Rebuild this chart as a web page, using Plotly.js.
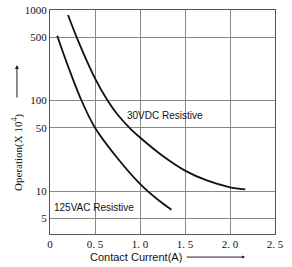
<!DOCTYPE html>
<html><head><meta charset="utf-8">
<script src="https://cdn.plot.ly/plotly-3.0.1.min.js"></script>
<style>html,body{margin:0;padding:0;background:#fff;}#c{width:292px;height:267px;}</style>
</head><body><div id="c"></div>
<script>
const dcCurrent = [0.2, 0.3, 0.5, 0.64, 0.75, 0.9, 1.0, 1.25, 1.5, 1.75, 2.0, 2.17];
const dcOps     = [880, 490, 176, 100, 70, 48, 39, 24.5, 16.8, 13, 11, 10.4];
const acCurrent = [0.08, 0.2, 0.35, 0.5, 0.75, 1.0, 1.2, 1.35];
const acOps     = [520, 240, 100, 50, 23, 12, 8, 6.2];
const xTickVals = [0, 0.5, 1.0, 1.5, 2.0, 2.5];
const xTickText = ['0', '0. 5', '1. 0', '1. 5', '2. 0', '2. 5'];
const yTickVals = [5, 10, 50, 100, 500, 1000];
const yTickText = ['5', '10', '50', '100', '500', '1000'];

const lineStyle = {color: '#111', width: 1.8, shape: 'spline', smoothing: 0.8};
const data = [
  {x: dcCurrent, y: dcOps, mode: 'lines', line: lineStyle, hoverinfo: 'skip'},
  {x: acCurrent, y: acOps, mode: 'lines', line: lineStyle, hoverinfo: 'skip'}
];
const serif = {family: 'Liberation Serif, Times New Roman, serif', size: 11, color: '#111'};
const sans = {family: 'Liberation Sans, Arial, sans-serif', size: 10, color: '#111'};
const layout = {
  width: 292, height: 267,
  margin: {l: 50, r: 17, t: 10, b: 33},
  paper_bgcolor: '#fff', plot_bgcolor: '#fff',
  showlegend: false,
  xaxis: {
    range: [0, 2.5], tickvals: xTickVals, ticktext: xTickText,
    showgrid: true, gridcolor: '#888', gridwidth: 1,
    showline: true, linecolor: '#555', linewidth: 1, mirror: true,
    ticks: '', tickfont: serif, zeroline: false, fixedrange: true
  },
  yaxis: {
    type: 'log', range: [Math.log10(3.35), 3],
    tickvals: yTickVals, ticktext: yTickText,
    showgrid: true, gridcolor: '#888', gridwidth: 1,
    showline: true, linecolor: '#555', linewidth: 1, mirror: true,
    ticks: '', tickfont: serif, zeroline: false, fixedrange: true
  },
  annotations: [
    {xref: 'x', yref: 'y', x: 1.28, y: Math.log10(69), text: '30VDC Resistive', showarrow: false, font: sans},
    {xref: 'x', yref: 'y', x: 0.49, y: Math.log10(6.65), text: '125VAC Resistive', showarrow: false, font: sans},
    {xref: 'paper', yref: 'paper', x: -0.147, y: 0.366, xanchor: 'center', yanchor: 'middle', text: 'Operation(X 10<sup>4</sup>)', textangle: -90, showarrow: false, font: {family: 'Liberation Serif, Times New Roman, serif', size: 11, color: '#111'}},
    {xref: 'paper', yref: 'paper', x: -0.147, y: 0.754, text: '', showarrow: true, ax: 0, ay: 34, arrowhead: 2, arrowsize: 0.8, arrowwidth: 1, arrowcolor: '#222'},
    {xref: 'paper', yref: 'paper', x: 0.38, y: -0.103, xanchor: 'center', yanchor: 'middle', text: 'Contact Current(A)', showarrow: false, font: {family: 'Liberation Sans, Arial, sans-serif', size: 11, color: '#111'}},
    {xref: 'paper', yref: 'paper', x: 0.867, y: -0.103, text: '', showarrow: true, ax: -60, ay: 0, arrowhead: 2, arrowsize: 0.6, arrowwidth: 1, arrowcolor: '#222'}
  ]
};
Plotly.newPlot('c', data, layout, {staticPlot: true, displayModeBar: false});
</script></body></html>
